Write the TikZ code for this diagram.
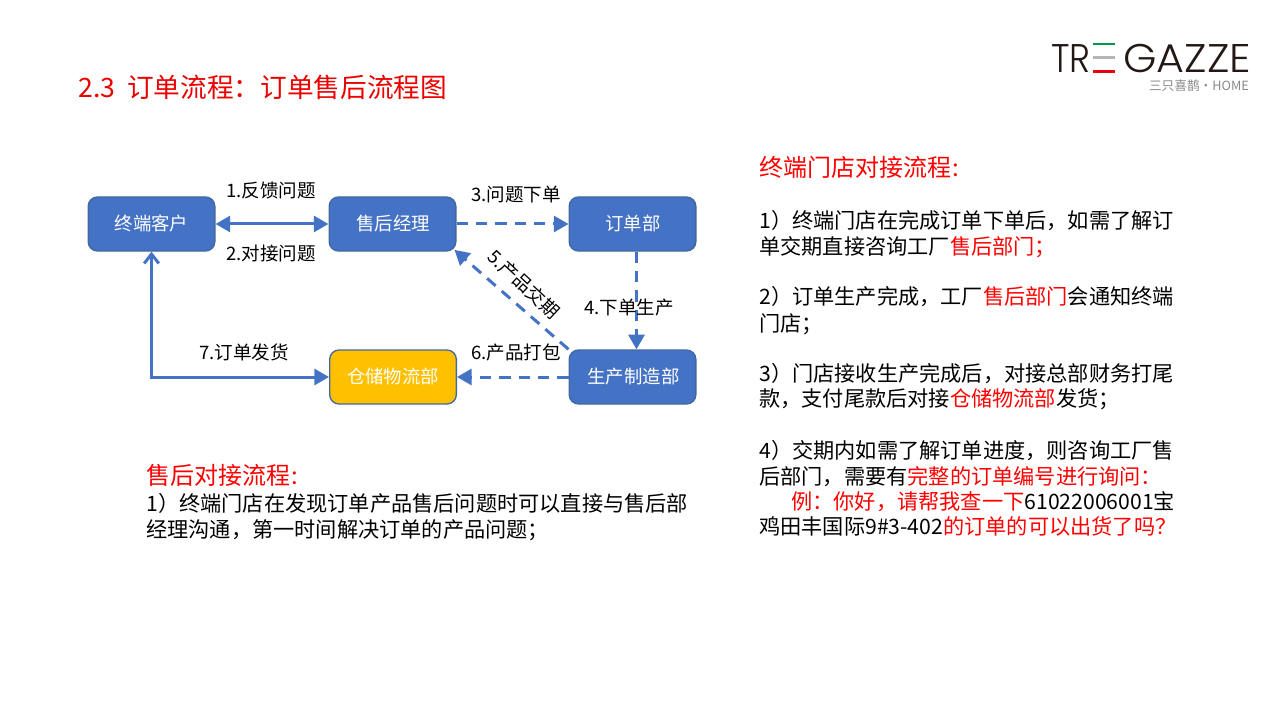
\documentclass[tikz,border=0pt]{standalone}
\usepackage{fontspec}
\setmainfont{Noto Sans CJK SC}
\newfontfamily\logofont{Poppins Light}
\usetikzlibrary{arrows.meta}
\definecolor{nodeblue}{HTML}{4472C4}
\definecolor{edgeblue}{HTML}{41699F}
\definecolor{stockyellow}{HTML}{FFC000}
\definecolor{logoink}{HTML}{231815}
\definecolor{logogrey}{HTML}{8A8A8A}
\definecolor{logogreen}{HTML}{009944}
\definecolor{logored}{HTML}{E60012}
\definecolor{logomid}{HTML}{B5B5B5}
\newcommand{\rd}[1]{\textcolor{red}{#1}}
\begin{document}
\begin{tikzpicture}[x=0.75pt,y=-0.75pt,
  flowbox/.style={draw=edgeblue,line width=1pt,rounded corners=7pt,fill=nodeblue,text=white,
    minimum width=95pt,minimum height=40.5pt,inner sep=0pt,text height=12.25pt,text depth=2pt,font=\fontsize{13.8pt}{16pt}\selectfont},
  solidlink/.style={draw=nodeblue,line width=2.25pt},
  dashlink/.style={draw=nodeblue,line width=2.25pt,dash pattern=on 8.5pt off 6pt},
  head/.tip={Triangle[length=11pt,width=12pt]},
  edgelabel/.style={inner sep=0pt,font=\fontsize{13.9pt}{16pt}\selectfont},
  bodyline/.style={anchor=base west,inner sep=0pt,font=\fontsize{15.9pt}{20pt}\selectfont},
  headline/.style={anchor=base west,inner sep=0pt,text=red,font=\fontsize{18pt}{20pt}\selectfont},
  logoword/.style={anchor=base west,inner sep=0pt,text=logoink,text height=22pt,text depth=0pt,font=\logofont\fontsize{30pt}{30pt}\selectfont},
  logobar/.style={line width=2.2pt}]
\useasboundingbox (0,0) rectangle (1280,720);
\fill[white] (0,0) rectangle (1280,720);

% title
\node[anchor=base west,inner sep=0pt,text=red!92!black,font=\fontsize{20pt}{24pt}\selectfont] (title) at (78,98) {2.3\hspace{9pt}订单流程：订单售后流程图};

% logo
\node[logoword] (logoa) at (1051,73) {\scalebox{0.89}[1]{TR}};
\draw[logobar,draw=logogreen] (1093,44) -- (1115,44);
\draw[logobar,draw=logomid] (1093,57.5) -- (1115,57.5);
\draw[logobar,draw=logored] (1093,71.5) -- (1115,71.5);
\node[logoword] (logob) at (1123,73) {\scalebox{1.07}[1]{GAZZE}};
\node[anchor=base east,inner sep=0pt,text=logogrey,font=\fontsize{9.5pt}{12pt}\selectfont] (logoc) at (1249,91) {三只喜鹊·HOME};

% nodes
\node[flowbox] (kh) at (151.5,224) {终端客户};
\node[flowbox] (sh) at (392.5,224) {\hspace{1pt}售后经理};
\node[flowbox] (dd) at (632.5,224) {\hspace{1pt}订单部};
\node[flowbox,fill=stockyellow] (wl) at (393,377) {仓储物流部};
\node[flowbox] (zz) at (632.5,377) {\hspace{1.5pt}生产制造部};

% connectors
\draw[solidlink,{head}-{head}] (kh) -- (sh);
\draw[dashlink,-{head}] (sh) -- (dd);
\draw[dashlink,-{head}] (dd.south) ++(3pt,0) coordinate (ddout) (ddout) -- (ddout |- zz.north);
\draw[dashlink,-{head},shorten >=-2pt] (zz.north west) -- (sh.south east);
\draw[dashlink,-{head}] (zz) -- (wl);
\draw[solidlink,{Straight Barb[length=7pt,width=11pt]}-{head}] (kh.south) |- (wl.west);

% connector labels
\node[edgelabel] (la) at (271,190.5) {1.反馈问题};
\node[edgelabel] (lb) at (271,253.5) {2.对接问题};
\node[edgelabel] (lc) at (516,194.5) {3.问题下单};
\node[edgelabel] (ld) at (629,307.5) {4.下单生产};
\node[edgelabel,rotate=-43] (le) at (524,284) {5.产品交期};
\node[edgelabel] (lf) at (516,352.5) {6.产品打包};
\node[edgelabel] (lg) at (244,352.5) {7.订单发货};

% lower left text
\node[headline] (ta) at (146,484.5) {售后对接流程\hspace{1pt}:};
\node[bodyline] (tb) at (146,511) {1）终端门店在发现订单产品售后问题时可以直接与售后部};
\node[bodyline] (tc) at (146,537) {经理沟通，第一时间解决订单的产品问题；};

% right text
\node[headline] (ra) at (759,177) {终端门店对接流程\hspace{1pt}:};
\node[bodyline] (rb) at (759,228.5) {1）终端门店在完成订单下单后，如需了解订};
\node[bodyline] (rc) at (759,254.5) {单交期直接咨询工厂\rd{售后部门；}};
\node[bodyline] (rd) at (759,304.5) {2）订单生产完成，工厂\rd{售后部门}会通知终端};
\node[bodyline] (re) at (759,331.5) {门店；};
\node[bodyline] (rf) at (759,381.5) {3）门店接收生产完成后，对接总部财务打尾};
\node[bodyline] (rg) at (759,406.5) {款，支付尾款后对接\rd{仓储物流部}发货；};
\node[bodyline] (rh) at (759,458.5) {4）交期内如需了解订单进度，则咨询工厂售};
\node[bodyline] (ri) at (759,484.5) {后部门，需要有\rd{完整的订单编号进行询问：}};
\node[bodyline] (rj) at (759,509.5) {\hspace{24pt}\rd{例：你好，请帮我查一下}61022006001宝};
\node[bodyline] (rk) at (759,534.5) {鸡田丰国际9\#3-402\rd{的订单的可以出货了吗？}};
\end{tikzpicture}
\end{document}
